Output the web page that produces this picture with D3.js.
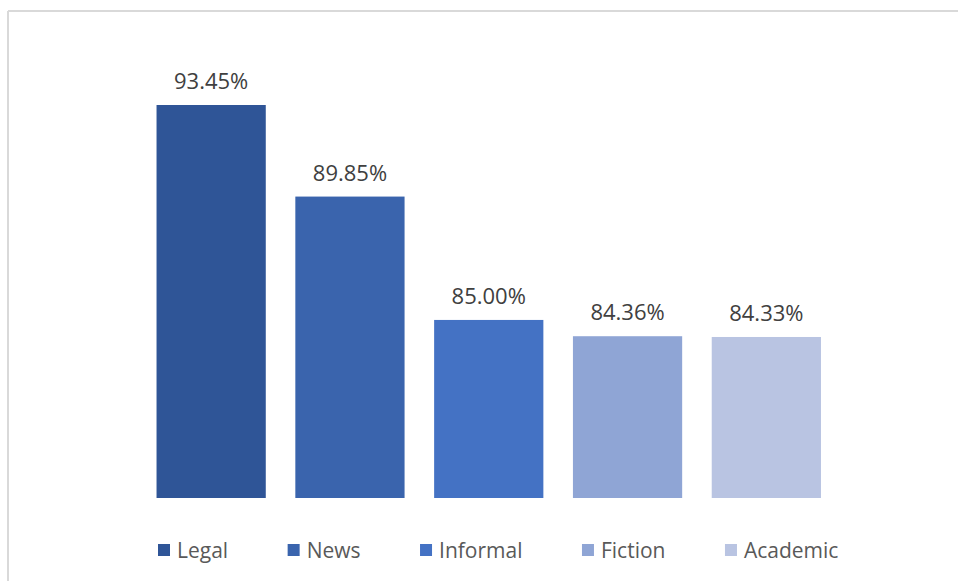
<!DOCTYPE html>
<html>
<head>
<meta charset="utf-8">
<script src="https://cdn.jsdelivr.net/npm/d3@7"></script>
<style>
html,body{margin:0;padding:0;background:#fff;}
svg{display:block;}
</style>
</head>
<body>
<svg id="chart" width="958" height="581"></svg>
<script>
const categories = ["Legal", "News", "Informal", "Fiction", "Academic"];
const values = [93.45, 89.85, 85.00, 84.36, 84.33];
const colors = ["#2F5597", "#3A64AD", "#4472C4", "#8FA5D5", "#B9C4E2"];

const svg = d3.select("#chart");
const W = 958, H = 581;
const font = "'Open Sans', sans-serif";

svg.append("line").attr("x1", 8).attr("x2", W).attr("y1", 11).attr("y2", 11)
  .attr("stroke", "#d9d9d9").attr("stroke-width", 2);
svg.append("line").attr("x1", 8).attr("x2", 8).attr("y1", 11).attr("y2", H)
  .attr("stroke", "#d9d9d9").attr("stroke-width", 2);

const x = d3.scaleBand().domain(categories).range([141.75, 835.75])
  .paddingInner(0.213).paddingOuter(0.1065);
const y = d3.scaleLinear().domain([78, 93.45]).range([498, 105]);

const data = categories.map((c, i) => ({c, v: values[i], col: colors[i]}));

svg.append("g").selectAll("rect").data(data).join("rect")
  .attr("x", d => x(d.c))
  .attr("y", d => y(d.v))
  .attr("width", x.bandwidth())
  .attr("height", d => y.range()[0] - y(d.v))
  .attr("fill", d => d.col);

svg.append("g").selectAll("text").data(data).join("text")
  .attr("x", d => x(d.c) + x.bandwidth() / 2)
  .attr("y", d => y(d.v) - 16)
  .attr("text-anchor", "middle")
  .attr("font-family", font)
  .attr("font-size", 22)
  .attr("fill", "#404040")
  .text(d => d.v.toFixed(2) + "%");

const lg = svg.append("g");
let lx = 158;
const ly = 550;
data.forEach(d => {
  lg.append("rect").attr("x", lx).attr("y", ly - 6).attr("width", 12).attr("height", 12)
    .attr("fill", d.col);
  const t = lg.append("text").attr("x", lx + 19).attr("y", ly + 7.5)
    .attr("font-family", font).attr("font-size", 21).attr("fill", "#595959")
    .text(d.c);
  const w = t.node().getComputedTextLength();
  lx = lx + 19 + w + 59.5;
});
</script>
</body>
</html>
